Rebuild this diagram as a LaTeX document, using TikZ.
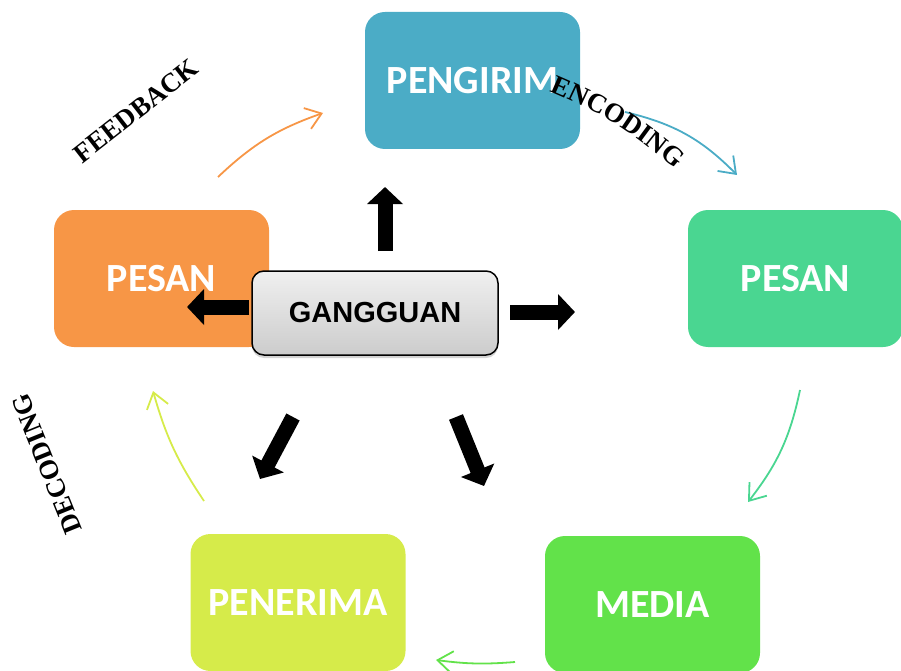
\documentclass[tikz,border=0pt]{standalone}
\usepackage{fontspec}
\setmainfont{Liberation Serif}
\newfontfamily\boxfont{Carlito}
\newfontfamily\gfont{Liberation Sans}
\usetikzlibrary{arrows.meta,decorations.text,shadows}
\definecolor{cblue}{HTML}{4BACC6}
\definecolor{cteal}{HTML}{4AD691}
\definecolor{cgreen}{HTML}{62E24A}
\definecolor{cyell}{HTML}{D6EB4A}
\definecolor{corange}{HTML}{F79646}
\newcommand\labfont{\fontsize{27pt}{27pt}\selectfont\bfseries}
\tikzset{
  stagebox/.style={rectangle, rounded corners=20pt, minimum width=215pt, minimum height=137pt,
    inner sep=0pt, text=white, font=\boxfont\fontsize{40pt}{40pt}\selectfont\bfseries},
  noisebox/.style={rectangle, rounded corners=12pt, minimum width=246pt, minimum height=84pt,
    draw=black, line width=1.5pt, top color=gray!12, bottom color=gray!40,
    drop shadow={shadow xshift=0pt, shadow yshift=-3pt, opacity=0.35},
    font=\gfont\fontsize{29pt}{29pt}\selectfont\bfseries},
  flow/.style={line width=1.8pt, -{Straight Barb[length=15pt,width=22pt]}},
  blk/.style={line width=15pt, black, -{Triangle[length=17pt,width=35pt]}},
  lab/.style={font=\labfont, inner sep=0pt}
}
\begin{document}
\begin{tikzpicture}[x=1pt,y=1pt]
\useasboundingbox (0,0) rectangle (901,-671);
% stage boxes
\node[stagebox, fill=cblue] (peng) at (472.5,-80.5) {PENGIRIM};
\node[stagebox, fill=cteal] (pesr) at (795.5,-278.5) {PESAN};
\node[stagebox, fill=cgreen] (media) at (652.5,-604.5) {MEDIA};
\node[stagebox, fill=cyell] (pener) at (298,-602.5) {PENERIMA};
\node[stagebox, fill=corange] (pesl) at (161.5,-278.5) {PESAN};
% noise box
\node[noisebox] (gang) at (375,-313) {GANGGUAN};
% curved flow arrows
\coordinate (o1) at (218,-177); \coordinate (o2) at (323,-113);
\coordinate (b1) at (625,-112); \coordinate (b2) at (737,-175);
\coordinate (t1) at (800,-390); \coordinate (t2) at (748,-502);
\coordinate (g1) at (515,-662); \coordinate (g2) at (436,-660);
\coordinate (y1) at (204,-501); \coordinate (y2) at (153,-391);
\draw[flow, corange] (o1) to[bend left=12] (o2);
\draw[flow, cblue] (b1) to[bend left=16] (b2);
\draw[flow, cteal] (t1) to[bend left=13] (t2);
\draw[flow, cgreen] (g1) to[bend left=6] (g2);
\draw[flow, cyell] (y1) to[bend left=9] (y2);
% block arrows from GANGGUAN
\coordinate (u1) at (385,-251); \coordinate (u2) at (385,-187);
\coordinate (r1) at (510,-312); \coordinate (r2) at (575,-312);
\coordinate (l1) at (249,-307); \coordinate (l2) at (187,-307);
\coordinate (dl1) at (293,-417); \coordinate (dl2) at (260,-479);
\coordinate (dr1) at (456,-417); \coordinate (dr2) at (484,-486);
\draw[blk] (u1) -- (u2);
\draw[blk] (r1) -- (r2);
\draw[blk] (l1) -- (l2);
\draw[blk] (dl1) -- (dl2);
\draw[blk] (dr1) -- (dr2);
% labels
\node[lab, rotate=38] (fb) at (136,-111) {FEEDBACK};
\node[lab, rotate=112] (dec) at (47,-464) {DECODING};
\coordinate (e1) at (549,-91); \coordinate (e2) at (676,-170);
\path[decorate, decoration={text along path, text align=center,
  text={|\labfont|ENCODING}}] (e1) to[bend left=9] (e2);
\end{tikzpicture}
\end{document}
